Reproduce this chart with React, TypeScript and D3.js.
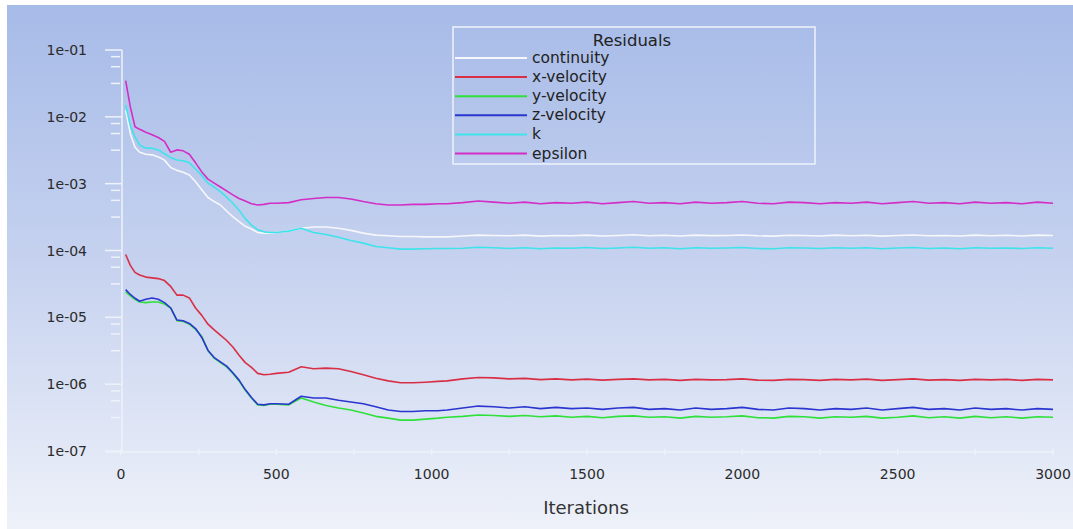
import React, { useEffect, useRef } from "react";
import * as d3 from "d3";

// iteration grid (x values) for the residual samples
const earlyIterations = [
  15, 30, 45, 60, 80, 100, 120, 140, 160, 180, 200, 220, 240, 260, 280, 300,
  320, 340, 360, 380, 400, 420, 440, 460, 480, 500, 540, 580, 620, 660, 700,
  740, 780, 820, 860, 900, 940, 980, 1020,
];
const lateIterations = d3.range(1050, 3001, 50);

// residuals (early part, then the flat part)
const continuityEarly = [
  1.26e-2, 5.6e-3, 3.5e-3, 2.95e-3, 2.75e-3, 2.7e-3, 2.5e-3, 2.25e-3, 1.74e-3,
  1.58e-3, 1.48e-3, 1.35e-3, 1.07e-3, 8.1e-4, 6.2e-4, 5.4e-4, 4.8e-4, 3.9e-4,
  3.2e-4, 2.7e-4, 2.3e-4, 2.1e-4, 1.86e-4, 1.82e-4, 1.82e-4, 1.86e-4, 1.95e-4,
  2.15e-4, 2.25e-4, 2.25e-4, 2.15e-4, 2.0e-4, 1.82e-4, 1.7e-4, 1.66e-4,
  1.62e-4, 1.62e-4, 1.6e-4, 1.6e-4,
];
const continuityLate = [
  1.6, 1.65, 1.7, 1.68, 1.66, 1.7, 1.64, 1.68, 1.66, 1.7, 1.65, 1.68, 1.72,
  1.66, 1.69, 1.65, 1.7, 1.67, 1.68, 1.71, 1.66, 1.64, 1.69, 1.68, 1.65, 1.7,
  1.66, 1.69, 1.64, 1.68, 1.71, 1.66, 1.68, 1.65, 1.7, 1.66, 1.69, 1.65, 1.7,
  1.68,
].map((v) => v * 1e-4);

const xVelocityEarly = [
  8.7e-5, 6.0e-5, 4.7e-5, 4.3e-5, 4.0e-5, 3.9e-5, 3.8e-5, 3.55e-5, 2.9e-5,
  2.15e-5, 2.15e-5, 1.95e-5, 1.38e-5, 1.07e-5, 7.9e-6, 6.5e-6, 5.4e-6, 4.5e-6,
  3.6e-6, 2.7e-6, 2.1e-6, 1.78e-6, 1.45e-6, 1.38e-6, 1.41e-6, 1.45e-6, 1.51e-6,
  1.82e-6, 1.7e-6, 1.74e-6, 1.7e-6, 1.55e-6, 1.38e-6, 1.23e-6, 1.12e-6,
  1.05e-6, 1.05e-6, 1.07e-6, 1.1e-6,
];
const xVelocityLate = [
  1.12, 1.2, 1.26, 1.24, 1.2, 1.22, 1.17, 1.2, 1.16, 1.19, 1.15, 1.18, 1.2,
  1.16, 1.18, 1.14, 1.18, 1.16, 1.17, 1.2, 1.15, 1.14, 1.18, 1.17, 1.14, 1.18,
  1.16, 1.19, 1.14, 1.17, 1.2, 1.15, 1.17, 1.14, 1.18, 1.16, 1.18, 1.14, 1.18,
  1.16,
].map((v) => v * 1e-6);

const yVelocityEarly = [
  2.4e-5, 2.1e-5, 1.86e-5, 1.7e-5, 1.66e-5, 1.7e-5, 1.7e-5, 1.58e-5, 1.38e-5,
  8.9e-6, 8.7e-6, 7.9e-6, 6.6e-6, 5.2e-6, 3.2e-6, 2.45e-6, 2.1e-6, 1.82e-6,
  1.45e-6, 1.12e-6, 8.1e-7, 6.2e-7, 4.9e-7, 4.8e-7, 5.0e-7, 5.0e-7, 4.9e-7,
  6.2e-7, 5.4e-7, 4.8e-7, 4.4e-7, 4.1e-7, 3.7e-7, 3.3e-7, 3.1e-7, 2.9e-7,
  2.9e-7, 3.0e-7, 3.1e-7,
];
const yVelocityLate = [
  3.2, 3.3, 3.45, 3.4, 3.3, 3.4, 3.25, 3.35, 3.2, 3.3, 3.15, 3.3, 3.35, 3.2,
  3.25, 3.1, 3.3, 3.2, 3.25, 3.35, 3.15, 3.1, 3.3, 3.25, 3.1, 3.25, 3.2, 3.3,
  3.1, 3.2, 3.35, 3.15, 3.25, 3.1, 3.3, 3.15, 3.25, 3.1, 3.25, 3.2,
].map((v) => v * 1e-7);

const zVelocityEarly = [
  2.6e-5, 2.2e-5, 1.93e-5, 1.74e-5, 1.86e-5, 1.95e-5, 1.86e-5, 1.66e-5, 1.38e-5,
  9.1e-6, 8.9e-6, 8.1e-6, 6.8e-6, 5.0e-6, 3.2e-6, 2.5e-6, 2.15e-6, 1.86e-6,
  1.48e-6, 1.15e-6, 8.3e-7, 6.3e-7, 5.0e-7, 4.9e-7, 5.1e-7, 5.1e-7, 5.0e-7,
  6.6e-7, 6.2e-7, 6.2e-7, 5.75e-7, 5.4e-7, 5.1e-7, 4.6e-7, 4.1e-7, 3.9e-7,
  3.9e-7, 4.0e-7, 4.0e-7,
];
const zVelocityLate = [
  4.1, 4.4, 4.7, 4.6, 4.4, 4.6, 4.3, 4.5, 4.3, 4.4, 4.2, 4.4, 4.5, 4.2, 4.3,
  4.1, 4.4, 4.2, 4.3, 4.5, 4.2, 4.1, 4.4, 4.3, 4.1, 4.3, 4.2, 4.4, 4.1, 4.3,
  4.5, 4.2, 4.3, 4.1, 4.4, 4.2, 4.3, 4.1, 4.3, 4.2,
].map((v) => v * 1e-7);

const kEarly = [
  1.5e-2, 7.4e-3, 5.0e-3, 3.8e-3, 3.4e-3, 3.4e-3, 3.2e-3, 2.8e-3, 2.45e-3,
  2.26e-3, 2.2e-3, 2.05e-3, 1.66e-3, 1.32e-3, 1.02e-3, 8.9e-4, 7.6e-4, 6.3e-4,
  5.1e-4, 4.0e-4, 3.0e-4, 2.4e-4, 2.05e-4, 1.9e-4, 1.86e-4, 1.86e-4, 1.95e-4,
  2.15e-4, 1.86e-4, 1.74e-4, 1.58e-4, 1.41e-4, 1.29e-4, 1.15e-4, 1.1e-4,
  1.05e-4, 1.05e-4, 1.06e-4, 1.07e-4,
];
const kLate = [
  1.07, 1.08, 1.12, 1.1, 1.07, 1.1, 1.06, 1.09, 1.08, 1.11, 1.07, 1.09, 1.12,
  1.08, 1.1, 1.06, 1.1, 1.08, 1.09, 1.11, 1.07, 1.06, 1.1, 1.09, 1.07, 1.1,
  1.08, 1.1, 1.06, 1.09, 1.11, 1.07, 1.09, 1.06, 1.1, 1.08, 1.09, 1.07, 1.1,
  1.08,
].map((v) => v * 1e-4);

const epsilonEarly = [
  3.47e-2, 1.41e-2, 7.1e-3, 6.5e-3, 5.9e-3, 5.4e-3, 4.9e-3, 4.3e-3, 2.95e-3,
  3.2e-3, 3.1e-3, 2.75e-3, 2.05e-3, 1.5e-3, 1.17e-3, 1.02e-3, 8.9e-4, 7.8e-4,
  6.8e-4, 6.0e-4, 5.5e-4, 5.0e-4, 4.8e-4, 4.9e-4, 5.1e-4, 5.1e-4, 5.2e-4,
  5.75e-4, 6.0e-4, 6.2e-4, 6.2e-4, 5.9e-4, 5.4e-4, 5.0e-4, 4.8e-4, 4.8e-4,
  4.9e-4, 4.9e-4, 5.0e-4,
];
const epsilonLate = [
  5.0, 5.2, 5.5, 5.3, 5.1, 5.3, 5.0, 5.2, 5.1, 5.3, 5.0, 5.2, 5.4, 5.1, 5.2,
  5.0, 5.3, 5.1, 5.2, 5.4, 5.1, 5.0, 5.3, 5.2, 5.0, 5.2, 5.1, 5.3, 5.0, 5.2,
  5.4, 5.1, 5.2, 5.0, 5.3, 5.1, 5.2, 5.0, 5.3, 5.1,
].map((v) => v * 1e-4);

const seriesNames = ["continuity", "x-velocity", "y-velocity", "z-velocity", "k", "epsilon"];
const seriesColors = ["#f6f7fb", "#d92f45", "#2fe03a", "#2a36cf", "#3fe3ea", "#d22ec6"];
const seriesValues = [
  [...continuityEarly, ...continuityLate],
  [...xVelocityEarly, ...xVelocityLate],
  [...yVelocityEarly, ...yVelocityLate],
  [...zVelocityEarly, ...zVelocityLate],
  [...kEarly, ...kLate],
  [...epsilonEarly, ...epsilonLate],
];
// draw order: green under blue, as in the plot
const drawOrder = [0, 1, 2, 3, 4, 5];

const yMajorTicks = [1e-1, 1e-2, 1e-3, 1e-4, 1e-5, 1e-6, 1e-7];
const yTickLabels = ["1e-01", "1e-02", "1e-03", "1e-04", "1e-05", "1e-06", "1e-07"];
const minorDecadeOffsets = [0.1, 0.25, 0.5];
const xTickValues = [0, 500, 1000, 1500, 2000, 2500, 3000];
const xMinorTicks = d3.range(0, 3001, 250);

const W = 1073;
const H = 529;

interface Pt {
  it: number;
  v: number;
}

export default function App() {
  const svgRef = useRef<SVGSVGElement>(null);

  useEffect(() => {
    if (!svgRef.current) return;
    const svg = d3.select(svgRef.current);
    svg.selectAll("*").remove();

    const font = "'DejaVu Sans', sans-serif";
    const iterations = [...earlyIterations, ...lateIterations];

    const x = d3.scaleLinear().domain([0, 3000]).range([121, 1053]);
    const y = d3.scaleLog().domain([1e-7, 1e-1]).range([451, 50]);

    // background gradient
    const defs = svg.append("defs");
    const grad = defs
      .append("linearGradient")
      .attr("id", "bg")
      .attr("x1", 0)
      .attr("y1", 0)
      .attr("x2", 0)
      .attr("y2", 1);
    grad.append("stop").attr("offset", "0%").attr("stop-color", "#a7bbe8");
    grad.append("stop").attr("offset", "50%").attr("stop-color", "#c6d2ef");
    grad.append("stop").attr("offset", "100%").attr("stop-color", "#eef1f9");

    svg.append("rect").attr("width", W).attr("height", H).attr("fill", "#ffffff");
    svg
      .append("rect")
      .attr("x", 7)
      .attr("y", 5)
      .attr("width", W - 7)
      .attr("height", H - 5)
      .attr("fill", "url(#bg)");

    const axisColor = "#eef2fa";
    const x0 = x(0) + 1;
    const yBottom = y(1e-7) + 1;

    // y axis
    svg
      .append("line")
      .attr("x1", x0)
      .attr("x2", x0)
      .attr("y1", y(1e-1))
      .attr("y2", yBottom)
      .attr("stroke", axisColor)
      .attr("stroke-width", 1.5);

    svg
      .selectAll(".ymaj")
      .data(yMajorTicks)
      .enter()
      .append("line")
      .attr("x1", x0 - 17)
      .attr("x2", x0)
      .attr("y1", (d) => y(d))
      .attr("y2", (d) => y(d))
      .attr("stroke", axisColor)
      .attr("stroke-width", 1.5);

    const minor: number[] = [];
    yMajorTicks.slice(0, -1).forEach((d) => {
      minorDecadeOffsets.forEach((o) => minor.push(d * Math.pow(10, -o)));
    });
    svg
      .selectAll(".ymin")
      .data(minor)
      .enter()
      .append("line")
      .attr("x1", x0 - 11)
      .attr("x2", x0 - 2)
      .attr("y1", (d) => y(d))
      .attr("y2", (d) => y(d))
      .attr("stroke", axisColor)
      .attr("stroke-width", 1.5);

    svg
      .selectAll(".ylab")
      .data(yMajorTicks)
      .enter()
      .append("text")
      .attr("x", 87)
      .attr("y", (d) => y(d))
      .attr("dy", "0.36em")
      .attr("text-anchor", "end")
      .style("font-family", font)
      .style("font-size", "14px")
      .style("fill", "#2b2b2b")
      .text((d, i) => yTickLabels[i]);

    // x axis
    svg
      .append("line")
      .attr("x1", x0 - 17)
      .attr("x2", x(3000))
      .attr("y1", yBottom)
      .attr("y2", yBottom)
      .attr("stroke", axisColor)
      .attr("stroke-width", 1.5);

    svg
      .selectAll(".xmin")
      .data(xMinorTicks)
      .enter()
      .append("line")
      .attr("x1", (d) => x(d))
      .attr("x2", (d) => x(d))
      .attr("y1", yBottom - 3)
      .attr("y2", yBottom + 3)
      .attr("stroke", axisColor)
      .attr("stroke-width", 1.5);

    svg
      .selectAll(".xlab")
      .data(xTickValues)
      .enter()
      .append("text")
      .attr("x", (d) => x(d))
      .attr("y", 479)
      .attr("text-anchor", "middle")
      .style("font-family", font)
      .style("font-size", "14px")
      .style("fill", "#2b2b2b")
      .text((d) => String(d));

    svg
      .append("text")
      .attr("x", 586)
      .attr("y", 514)
      .attr("text-anchor", "middle")
      .style("font-family", font)
      .style("font-size", "18px")
      .style("fill", "#333")
      .text("Iterations");

    // residual lines
    const line = d3
      .line<Pt>()
      .x((d) => x(d.it))
      .y((d) => y(d.v));

    drawOrder.forEach((s) => {
      const pts: Pt[] = iterations.map((it, i) => ({ it, v: seriesValues[s][i] }));
      svg
        .append("path")
        .datum(pts)
        .attr("fill", "none")
        .attr("stroke", seriesColors[s])
        .attr("stroke-width", 1.6)
        .attr("stroke-linejoin", "round")
        .attr("d", line);
    });

    // legend
    const legend = svg.append("g").attr("transform", "translate(453, 27)");
    legend
      .append("rect")
      .attr("width", 362)
      .attr("height", 137)
      .attr("fill", "none")
      .attr("stroke", "#eef2fb")
      .attr("stroke-width", 1.5);
    legend
      .append("text")
      .attr("x", 179)
      .attr("y", 19)
      .attr("text-anchor", "middle")
      .style("font-family", font)
      .style("font-size", "16.5px")
      .style("fill", "#222")
      .text("Residuals");

    seriesNames.forEach((name, i) => {
      const ly = 31 + i * 19.1;
      legend
        .append("line")
        .attr("x1", 2)
        .attr("x2", 74)
        .attr("y1", ly)
        .attr("y2", ly)
        .attr("stroke", seriesColors[i])
        .attr("stroke-width", 2);
      legend
        .append("text")
        .attr("x", 79)
        .attr("y", ly + 5)
        .style("font-family", font)
        .style("font-size", "15.5px")
        .style("fill", "#222")
        .text(name);
    });
  }, []);

  return (
    <svg
      ref={svgRef}
      width={W}
      height={H}
      style={{ position: "absolute", left: 0, top: 0, display: "block" }}
    />
  );
}
